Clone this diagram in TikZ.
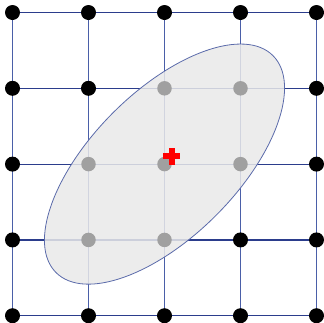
\documentclass[tikz,border=0pt]{standalone}
\definecolor{hline}{HTML}{2B3D8C}
\definecolor{vline}{HTML}{4A5FA8}
\definecolor{eborder}{HTML}{5A6AAA}
\definecolor{efill}{HTML}{E9E9E9}
\definecolor{gdot}{HTML}{A0A0A0}
\begin{document}
\begin{tikzpicture}[x=1pt,y=-1pt,
  bdot/.style={circle,fill=black,inner sep=0pt,minimum size=15pt},
  gdotst/.style={circle,fill=gdot,inner sep=0pt,minimum size=14.5pt},
  hl/.style={draw=hline,line width=1.2pt},
  vl/.style={draw=vline,line width=1.2pt}]
\useasboundingbox (0,0) rectangle (324,322);
% grid coordinates
\foreach \i in {0,...,4}{
  \foreach \j in {0,...,4}{
    \coordinate (c\i\j) at (12.5+76*\i,12.5+75.8*\j);
  }
}
% grid lines
\foreach \j in {0,...,4}{\draw[hl] (c0\j) -- (c4\j);}
\foreach \i in {0,...,4}{\draw[vl] (c\i0) -- (c\i4);}
% ellipse
\coordinate (ec) at (c22);
\draw[draw=eborder,line width=0.8pt,fill=efill,fill opacity=0.85]
  (ec) ellipse[x radius=153.4pt,y radius=72.7pt,rotate=45];
% black dots
\foreach \i/\j in {0/0,1/0,2/0,3/0,4/0,0/1,1/1,4/1,0/2,4/2,0/3,3/3,4/3,0/4,1/4,2/4,3/4,4/4}{
  \node[bdot] (b\i\j) at (c\i\j) {};
}
% gray dots
\foreach \i/\j in {2/1,3/1,1/2,2/2,3/2,1/3,2/3}{
  \node[gdotst] (g\i\j) at (c\i\j) {};
}
% red plus
\coordinate (plus) at (171.8,156);
\draw[red,line width=6pt] ([xshift=-8.5pt]plus) -- ([xshift=8.5pt]plus);
\draw[red,line width=6pt] ([yshift=-8.5pt]plus) -- ([yshift=8.5pt]plus);
\end{tikzpicture}
\end{document}
